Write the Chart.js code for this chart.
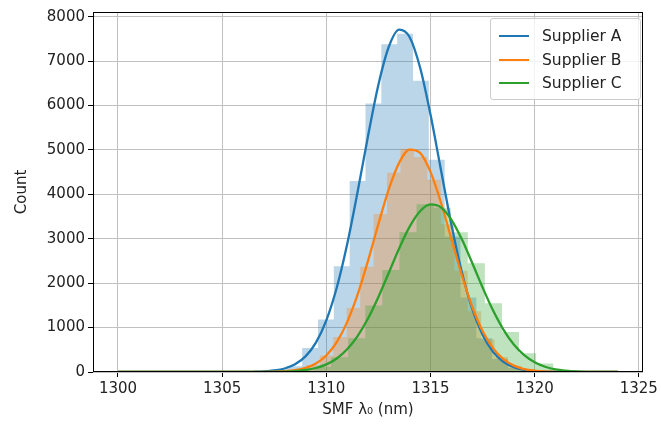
<!DOCTYPE html>
<html>
<head>
<meta charset="utf-8">
<script src="https://cdn.jsdelivr.net/npm/chart.js@4.4.1/dist/chart.umd.min.js"></script>
<style>
  body { margin: 0; background: #fff; }
  #wrap { position: relative; width: 661px; height: 425px; }
  #legend {
    position: absolute; left: 490px; top: 18px; width: 149px; height: 80px;
    border: 1px solid #cccccc; border-radius: 3px; background: rgba(255,255,255,0.8);
    font-family: "DejaVu Sans", sans-serif; font-size: 15.5px; color: #222;
  }
  .row { position: absolute; left: 0; height: 20px; }
  .swatch { position: absolute; left: 8px; top: 9px; width: 30px; height: 2px; }
  .lbl { position: absolute; left: 51px; top: 0; line-height: 20px; white-space: nowrap; }
</style>
</head>
<body>
<div id="wrap">
  <canvas id="myChart" width="661" height="425"></canvas>
  <div id="legend"></div>
</div>
<script>
const xTicks = [1300, 1305, 1310, 1315, 1320, 1325];
const yTicks = [0, 1000, 2000, 3000, 4000, 5000, 6000, 7000, 8000];
const suppliers = ["Supplier A", "Supplier B", "Supplier C"];
const colors = ["#1f77b4", "#ff7f0e", "#2ca02c"];
const fills = ["rgba(31,119,180,0.3)", "rgba(255,127,14,0.3)", "rgba(44,160,44,0.3)"];

// histogram bins (nm) and counts
const edgesA = [1306.56, 1307.32, 1308.08, 1308.84, 1309.60, 1310.36, 1311.12, 1311.88, 1312.64, 1313.40,
  1314.16, 1314.92, 1315.68, 1316.44, 1317.20, 1317.96, 1318.72, 1319.48, 1320.24, 1321.00];
const countsA = [12, 48, 130, 540, 1180, 2380, 4300, 6050, 7380, 7620, 6560, 4780, 3050, 1680, 760, 290, 90, 25, 8];

const edgesB = [1307.11, 1307.755, 1308.40, 1309.045, 1309.69, 1310.335, 1310.98, 1311.625, 1312.27, 1312.915,
  1313.56, 1314.205, 1314.85, 1315.495, 1316.14, 1316.785, 1317.43, 1318.075, 1318.72, 1319.365, 1320.01, 1320.655];
const countsB = [5, 19, 57, 155, 370, 790, 1443, 2370, 3560, 4490, 5030, 4840, 4330, 3330, 2280, 1370, 730, 340, 140, 50, 16];

const edgesC = [1306.95, 1307.77, 1308.59, 1309.41, 1310.23, 1311.05, 1311.87, 1312.69, 1313.51, 1314.33,
  1315.15, 1315.97, 1316.79, 1317.61, 1318.43, 1319.25, 1320.07, 1320.89, 1321.71, 1322.53];
const countsC = [2, 9, 36, 120, 330, 760, 1500, 2300, 3150, 3780, 3700, 3150, 2450, 1550, 900, 420, 190, 55, 12];

// fitted curves
const curveX = [1300, 1302, 1304, 1305, 1306, 1306.5, 1307, 1307.5, 1308, 1308.5, 1309, 1309.5, 1310, 1310.5,
  1311, 1311.5, 1312, 1312.5, 1313, 1313.5, 1314, 1314.5, 1315, 1315.5, 1316, 1316.5, 1317, 1317.5, 1318,
  1318.5, 1319, 1319.5, 1320, 1320.5, 1321, 1322, 1323, 1324];
const curveA = [0, 0, 0, 0, 2, 5, 13, 34, 79, 173, 351, 662, 1163, 1896, 2875, 4054, 5311, 6470, 7325, 7710,
  7540, 6857, 5798, 4556, 3329, 2260, 1427, 838, 456, 231, 109, 47, 19, 7, 2, 0, 0, 0];
const curveB = [0, 0, 0, 0, 0, 1, 2, 6, 17, 41, 92, 193, 373, 673, 1124, 1740, 2502, 3333, 4117, 4716,
  5010, 4935, 4507, 3819, 2999, 2184, 1475, 924, 537, 289, 144, 67, 29, 11, 4, 0, 0, 0];
const curveC = [0, 0, 0, 0, 0, 1, 2, 4, 9, 21, 45, 90, 171, 305, 512, 809, 1205, 1691, 2237, 2787,
  3273, 3621, 3775, 3709, 3433, 2994, 2460, 1905, 1390, 956, 619, 378, 217, 118, 60, 13, 2, 0];

const FONT = "DejaVu Sans";

function histPoints(edges, counts) {
  let pts = counts.map((c, i) => ({ x: edges[i], y: c }));
  pts.push({ x: edges[edges.length - 1], y: 0 });
  return pts;
}
function curvePoints(ys) {
  return curveX.map((x, i) => ({ x: x, y: ys[i] }));
}

const hists = [[edgesA, countsA], [edgesB, countsB], [edgesC, countsC]];
const curves = [curveA, curveB, curveC];

let datasets = [];
curves.forEach((ys, i) => {
  datasets.push({
    label: suppliers[i],
    data: curvePoints(ys),
    borderColor: colors[i],
    borderWidth: 2.3,
    pointRadius: 0,
    fill: false,
    cubicInterpolationMode: "monotone",
    order: 2 - i,
  });
});
hists.forEach(([e, c], i) => {
  datasets.push({
    label: suppliers[i] + " hist",
    data: histPoints(e, c),
    stepped: true,
    borderColor: "rgba(0,0,0,0)",
    borderWidth: 0,
    backgroundColor: fills[i],
    fill: "origin",
    pointRadius: 0,
    order: 5 - i,
  });
});

const spines = {
  id: "spines",
  afterDatasetsDraw(chart) {
    const { ctx, chartArea: a } = chart;
    ctx.save();
    ctx.strokeStyle = "#000";
    ctx.lineWidth = 1;
    ctx.strokeRect(Math.round(a.left) + 0.5, Math.round(a.top) + 0.5,
      Math.round(a.right - a.left) - 1, Math.round(a.bottom - a.top) - 1);
    ctx.restore();
  },
};

const ctx = document.getElementById("myChart");
new Chart(ctx, {
  type: "line",
  data: { datasets: datasets },
  plugins: [spines],
  options: {
    responsive: false,
    animation: false,
    devicePixelRatio: 1,
    layout: { padding: { top: 11, right: 13, left: 0, bottom: 0 } },
    plugins: { legend: { display: false }, tooltip: { enabled: false } },
    scales: {
      x: {
        type: "linear",
        min: 1298.8,
        max: 1325.2,
        afterBuildTicks: (s) => { s.ticks = xTicks.map((v) => ({ value: v })); },
        afterFit: (s) => { s.height = 53; },
        border: { display: false },
        grid: { color: "#c0c0c0", lineWidth: 1, tickLength: 5, tickColor: "#000" },
        ticks: { color: "#222", font: { family: FONT, size: 15 }, padding: 3, maxRotation: 0,
          callback: (v) => String(v) },
        title: { display: true, text: "SMF λ₀ (nm)", color: "#222",
          font: { family: FONT, size: 15 }, padding: { top: 0, bottom: 6 } },
      },
      y: {
        min: 0,
        max: 8108,
        afterBuildTicks: (s) => { s.ticks = yTicks.map((v) => ({ value: v })); },
        afterFit: (s) => { s.width = 93; },
        border: { display: false },
        grid: { color: "#c0c0c0", lineWidth: 1, tickLength: 5, tickColor: "#000" },
        ticks: { color: "#222", font: { family: FONT, size: 15 }, padding: 3,
          callback: (v) => String(v) },
        title: { display: true, text: "Count", color: "#222",
          font: { family: FONT, size: 15 }, padding: { top: 13, bottom: 0 } },
      },
    },
  },
});

// legend for the fitted curves
const legend = document.getElementById("legend");
suppliers.forEach((name, i) => {
  const row = document.createElement("div");
  row.className = "row";
  row.style.top = (7 + i * 23.5) + "px";
  row.innerHTML = '<div class="swatch" style="background:' + colors[i] + '"></div>' +
    '<span class="lbl">' + name + "</span>";
  legend.appendChild(row);
});
</script>
</body>
</html>
